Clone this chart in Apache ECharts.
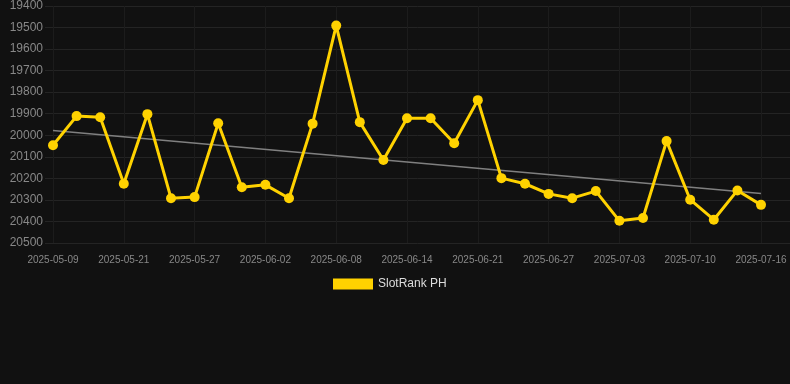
<!DOCTYPE html>
<html><head><meta charset="utf-8">
<script src="https://cdn.jsdelivr.net/npm/echarts@6/dist/echarts.min.js"></script>
<style>html,body{margin:0;padding:0;background:#111111;}#c{width:790px;height:384px;}</style>
</head><body><div id="c"></div>
<script>
const categories = ["2025-05-09","2025-05-13","2025-05-17","2025-05-21","2025-05-23","2025-05-25","2025-05-27","2025-05-29","2025-05-31","2025-06-02","2025-06-04","2025-06-06","2025-06-08","2025-06-10","2025-06-12","2025-06-14","2025-06-16","2025-06-18","2025-06-21","2025-06-23","2025-06-25","2025-06-27","2025-06-29","2025-07-01","2025-07-03","2025-07-05","2025-07-07","2025-07-10","2025-07-12","2025-07-14","2025-07-16"];
const rankValues = [20046,19911,19916,20225,19902,20292,20287,19944,20241,20230,20292,19946,19491,19939,20115,19921,19921,20037,19837,20199,20225,20272,20292,20259,20397,20384,20027,20299,20392,20256,20323];
const trendEnds = [19978, 20270];
const yTicks = {min:19400, max:20500, interval:100};

const trendData = categories.map((c,i)=> i===0 ? trendEnds[0] : (i===categories.length-1 ? trendEnds[1] : null));
const font = 'Arial, "Liberation Sans", sans-serif';

const chart = echarts.init(document.getElementById('c'));
chart.setOption({
  backgroundColor:'#111111',
  animation:false,
  grid:[
    {left:45, right:0, top:6, bottom:141},
    {left:53, right:29, top:6, bottom:141}
  ],
  legend:{
    data:['SlotRank PH'], top:273, left:328,
    itemWidth:40, itemHeight:11,
    textStyle:{color:'#dddddd', fontSize:12, fontFamily:font},
    icon:'rect'
  },
  xAxis:[
    {gridIndex:0, type:'value', show:false, min:0, max:1},
    {gridIndex:1, type:'category', data:categories, boundaryGap:false,
     axisLine:{show:false},
     axisTick:{show:false},
     axisLabel:{interval:2, color:'#888888', fontSize:10, margin:12, fontFamily:font},
     splitLine:{show:true, interval:2, lineStyle:{color:'#1c1c1c', width:1}}}
  ],
  yAxis:[
    {gridIndex:0, type:'value', inverse:true, min:yTicks.min, max:yTicks.max, interval:yTicks.interval,
     axisLine:{show:false}, axisTick:{show:false}, axisLabel:{show:false},
     splitLine:{lineStyle:{color:'#242424', width:1}}},
    {gridIndex:1, type:'value', inverse:true, min:yTicks.min, max:yTicks.max, interval:yTicks.interval,
     axisLine:{show:false}, axisTick:{show:false},
     axisLabel:{color:'#888888', fontSize:12, margin:10, fontFamily:font, formatter:v=>String(v)},
     splitLine:{show:false}}
  ],
  series:[
    {name:'SlotRank PH', type:'line', xAxisIndex:1, yAxisIndex:1, data:rankValues, symbol:'circle', symbolSize:10,
     lineStyle:{color:'#FFD200', width:3}, itemStyle:{color:'#FFD200'}, z:3},
    {name:'trend', type:'line', xAxisIndex:1, yAxisIndex:1, data:trendData, connectNulls:true, symbol:'none',
     lineStyle:{color:'#808080', width:1.5}, itemStyle:{color:'#808080'}, z:2, silent:true}
  ]
});
</script></body></html>
